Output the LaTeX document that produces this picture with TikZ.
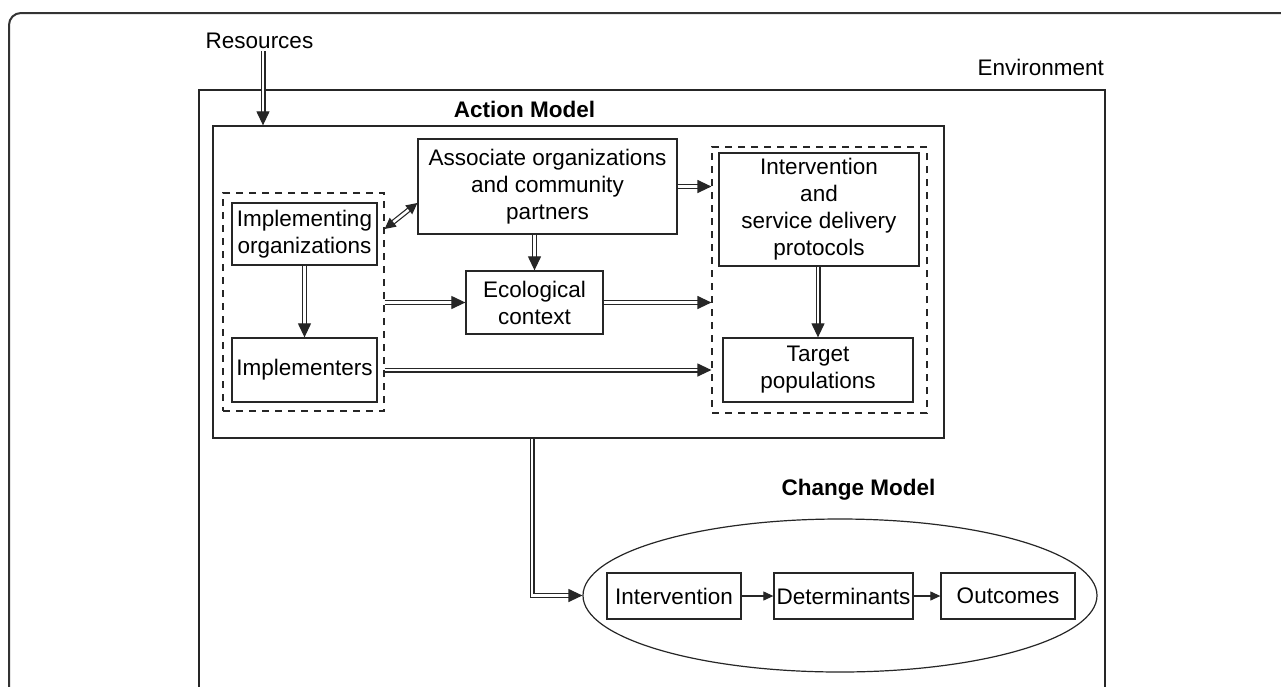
\documentclass[tikz,border=0pt]{standalone}
\usepackage{fontspec}
\setmainfont{Liberation Sans}
\usetikzlibrary{arrows.meta,shapes.geometric,calc}
\begin{document}
\begin{tikzpicture}[x=1pt,y=-1pt,
  box/.style={draw=black!85, line width=1.3pt, rectangle, inner sep=0pt, align=center, font=\fontsize{22.5}{27}\selectfont},
  dbox/.style={draw=black!85, line width=1.2pt, dash pattern=on 7pt off 6pt, rectangle, inner sep=0pt},
  dbl/.style={draw=black!85, double=white, double distance=2.6pt, line width=1.2pt, -{Triangle[length=14pt,width=13pt]}},
  thinarr/.style={draw=black!85, line width=1.1pt, -{Triangle[length=10pt,width=9pt]}},
  lbl/.style={font=\fontsize{22.5}{27}\selectfont, inner sep=0pt},
  ttl/.style={font=\fontsize{22.5}{27}\selectfont\bfseries, inner sep=0pt}]
\useasboundingbox (0,0) rectangle (1281,686);
\clip (0,0) rectangle (1281,686);
\fill[white] (0,0) rectangle (1281,686);
% outer frame
\draw[line width=2pt, black!80, rounded corners=12pt] (9,700) -- (9,13) -- (1300,13);
% environment frame
\draw[line width=1.3pt, black!85] (199,700) -- (199,90) -- (1105,90) -- (1105,700);
\node[lbl, anchor=base east] (envlbl) at (1104,75) {Environment};
\node[lbl, anchor=base] (res) at (259.5,48) {Resources};
% action model
\node[box, minimum width=731pt, minimum height=312pt] (am) at (578.5,282) {};
\node[ttl, anchor=base] (amlbl) at (524.5,117) {Action Model};
\node[box, minimum width=259pt, minimum height=95pt] (assoc) at (547.5,186.5) {Associate organizations\\and community\\partners};
\node[dbox, minimum width=161pt, minimum height=218pt] (ldash) at (303.5,302) {};
\node[box, minimum width=145pt, minimum height=62pt] (impo) at (304.5,234) {Implementing\\organizations};
\node[box, minimum width=145pt, minimum height=64pt] (impl) at (304.5,370) {Implementers};
\node[box, minimum width=137pt, minimum height=63pt] (eco) at (534.5,302.5) {Ecological\\context};
\node[dbox, minimum width=215pt, minimum height=266pt] (rdash) at (819.5,280) {};
\node[box, minimum width=200pt, minimum height=113pt] (ipro) at (819,209.5) {Intervention\\and\\service delivery\\protocols};
\node[box, minimum width=190pt, minimum height=64pt] (tgt) at (818,370) {Target\\populations};
% change model
\node[ttl, anchor=base] (cmlbl) at (858.5,495) {Change Model};
\node[draw=black!85, line width=1.2pt, ellipse, minimum width=514pt, minimum height=153pt, inner sep=0pt] (cm) at (840,595.5) {};
\node[box, minimum width=134pt, minimum height=46pt] (ci) at (674,596) {Intervention};
\node[box, minimum width=139pt, minimum height=46pt] (det) at (843.5,596) {Determinants};
\node[box, minimum width=134pt, minimum height=46pt] (out) at (1008,596) {Outcomes};
% connectors
\coordinate (resfoot) at (263,51);
\draw[dbl] (resfoot) -- (am.north -| resfoot);
\draw[dbl] (impo.south) -- (impl.north);
\draw[dbl] (assoc.south -| eco.north) -- (eco.north);
\draw[dbl] (assoc.east) -- (assoc.east -| rdash.west);
\draw[dbl] (ldash.east |- eco.west) -- (eco.west);
\draw[dbl] (eco.east) -- (eco.east -| rdash.west);
\draw[dbl] (impl.east -| ldash.east) -- (impl.east -| rdash.west);
\draw[dbl] (ipro.south -| tgt.north) -- (tgt.north);
\draw[dbl, {Triangle[length=11pt,width=11pt]}-{Triangle[length=11pt,width=11pt]}] (ldash.east |- 0,229) -- (assoc.west |- 0,203);
\draw[dbl] (am.south -| 532,0) |- (cm.west);
\draw[thinarr] (ci.east) -- (det.west);
\draw[thinarr] (det.east) -- (out.west);
\end{tikzpicture}
\end{document}
